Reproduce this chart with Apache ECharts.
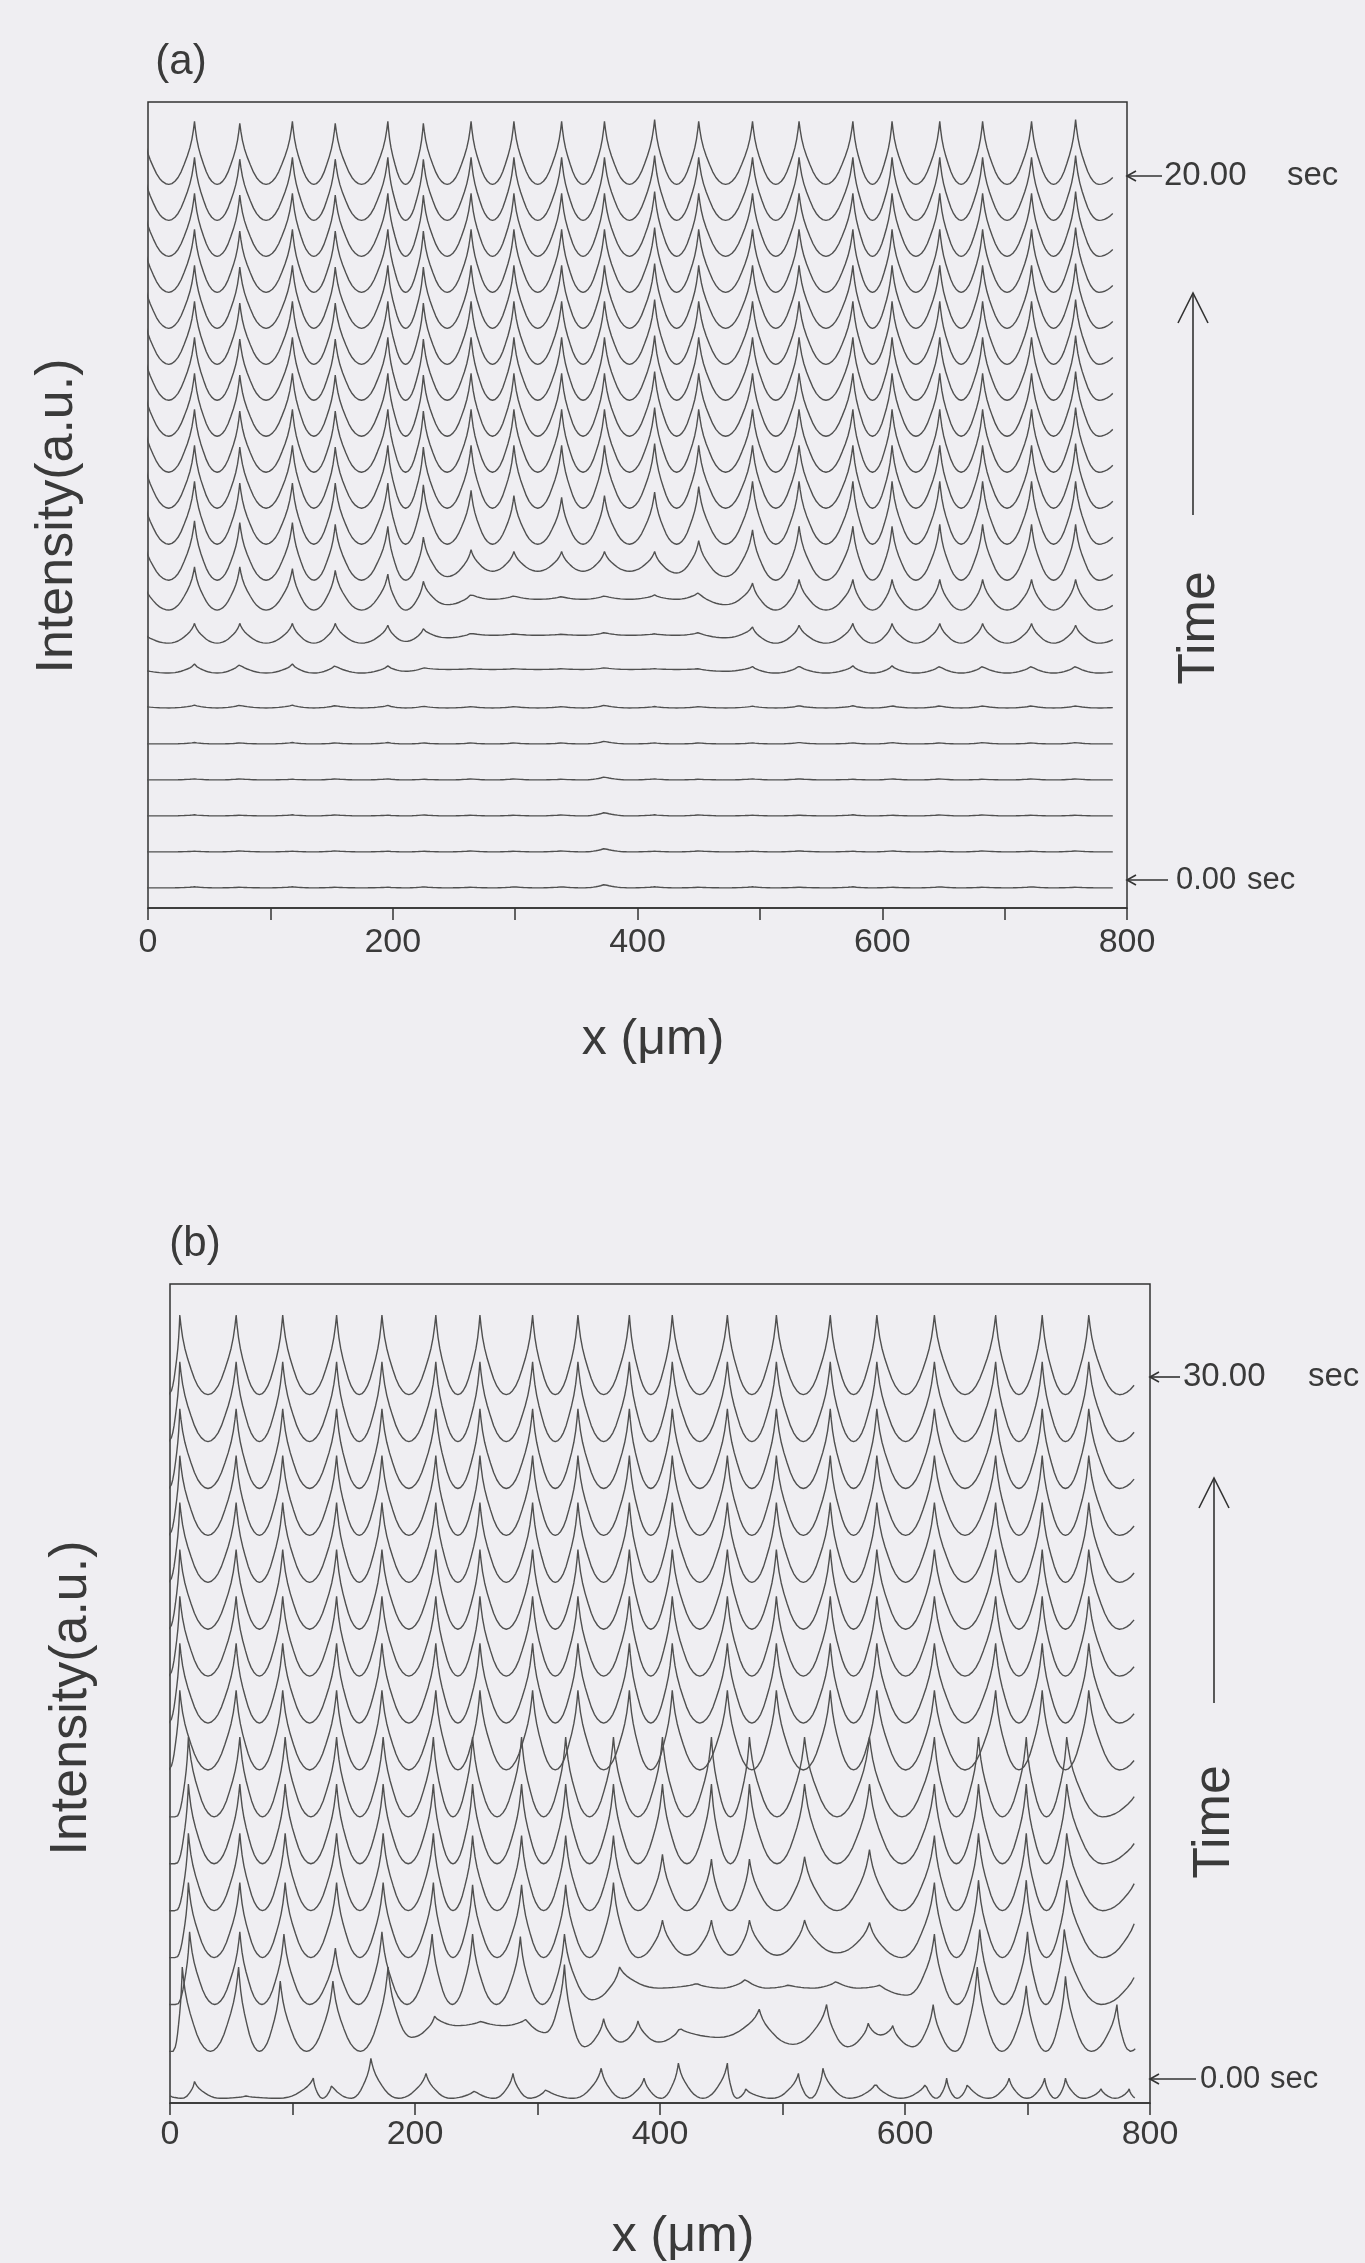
<!DOCTYPE html>
<html lang="en">
<head>
    <meta charset="UTF-8">
    <title>Intensity profiles vs time</title>
    <script src="https://cdn.jsdelivr.net/npm/echarts@6.0.0/dist/echarts.min.js"></script>
    <style>
        body { margin: 0; background-color: #efeef2; }
        #chart { width: 1365px; height: 2263px; }
    </style>
</head>
<body>
    <div id="chart"></div>
    <script>
        // ---------- panel (a): 0 .. 20 sec, one trace per second ----------
        // peak positions in um (first / last sit just outside the trace ends)
        var A_PEAK_X = [-4, 38, 75, 118, 153, 196, 225, 264, 299, 338, 373, 414, 450, 494, 532, 576, 608, 647, 682, 722, 758, 796];
        // valley level of each trace (trace spacing = 1), t = 0 .. 20
        var A_BASE = [0.56, 1.56, 2.56, 3.56, 4.56, 5.56, 6.53, 7.36, 8.28, 9.11, 10.11, 11.11, 12.11, 13.11, 14.11, 15.11, 16.11, 17.11, 18.11, 19.11, 20.11];
        var A_FULL = [1.5, 1.75, 1.7, 1.75, 1.7, 1.75, 1.7, 1.75, 1.75, 1.75, 1.75, 1.8, 1.75, 1.75, 1.75, 1.75, 1.75, 1.75, 1.75, 1.75, 1.8, 0.6];
        // peak heights above the valley level, one row per trace
        var A_PEAKS = [
            [0, 0.03, 0.02, 0.03, 0.02, 0.02, 0.03, 0.02, 0.03, 0.03, 0.1, 0.03, 0.02, 0.03, 0.02, 0.03, 0.02, 0.03, 0.02, 0.03, 0.02, 0],
            [0, 0.02, 0.03, 0.02, 0.03, 0.02, 0.02, 0.03, 0.02, 0.03, 0.1, 0.02, 0.03, 0.02, 0.03, 0.02, 0.03, 0.02, 0.03, 0.02, 0.03, 0],
            [0, 0.03, 0.02, 0.03, 0.03, 0.02, 0.03, 0.02, 0.02, 0.03, 0.1, 0.03, 0.03, 0.02, 0.02, 0.03, 0.02, 0.03, 0.03, 0.02, 0.02, 0],
            [0, 0.03, 0.03, 0.02, 0.03, 0.03, 0.02, 0.03, 0.03, 0.02, 0.09, 0.03, 0.02, 0.03, 0.03, 0.02, 0.03, 0.03, 0.02, 0.03, 0.03, 0],
            [0, 0.04, 0.03, 0.04, 0.03, 0.04, 0.03, 0.03, 0.03, 0.03, 0.08, 0.03, 0.03, 0.03, 0.04, 0.03, 0.04, 0.03, 0.04, 0.03, 0.04, 0],
            [0.05, 0.08, 0.08, 0.08, 0.07, 0.07, 0.05, 0.04, 0.04, 0.04, 0.08, 0.04, 0.04, 0.05, 0.06, 0.06, 0.06, 0.06, 0.06, 0.06, 0.06, 0.03],
            [0.1, 0.25, 0.25, 0.25, 0.22, 0.2, 0.15, 0.12, 0.12, 0.12, 0.15, 0.12, 0.12, 0.18, 0.2, 0.2, 0.2, 0.2, 0.2, 0.2, 0.2, 0.1],
            [0.3, 0.55, 0.55, 0.55, 0.55, 0.5, 0.4, 0.28, 0.26, 0.25, 0.3, 0.26, 0.3, 0.45, 0.5, 0.55, 0.55, 0.55, 0.55, 0.55, 0.5, 0.3],
            [0.8, 1.2, 1.2, 1.15, 1.1, 1.0, 0.8, 0.45, 0.4, 0.38, 0.4, 0.42, 0.5, 0.75, 0.85, 0.85, 0.85, 0.85, 0.85, 0.85, 0.85, 0.4],
            [1.2, 1.65, 1.6, 1.6, 1.55, 1.5, 1.2, 0.85, 0.8, 0.8, 0.8, 0.8, 1.1, 1.4, 1.5, 1.5, 1.5, 1.55, 1.55, 1.55, 1.55, 0.5],
            [1.4, 1.75, 1.7, 1.7, 1.7, 1.7, 1.65, 1.5, 1.35, 1.3, 1.35, 1.45, 1.6, 1.75, 1.75, 1.75, 1.75, 1.75, 1.75, 1.75, 1.75, 0.6],
            A_FULL, A_FULL, A_FULL, A_FULL, A_FULL, A_FULL, A_FULL, A_FULL, A_FULL, A_FULL
        ];
        // raised floor between peaks where the pattern has not formed yet
        var A_VALLEYS = [
            null, null, null, null, null, null,
            [0, 0, 0, 0, 0, 0.05, 0.1, 0.1, 0.1, 0.1, 0.1, 0.1, 0.05, 0, 0, 0, 0, 0, 0, 0, 0],
            [0, 0, 0, 0, 0, 0.05, 0.15, 0.22, 0.22, 0.22, 0.22, 0.22, 0.15, 0, 0, 0, 0, 0, 0, 0, 0],
            [0, 0, 0, 0, 0, 0, 0.15, 0.3, 0.3, 0.3, 0.3, 0.3, 0.15, 0, 0, 0, 0, 0, 0, 0, 0],
            [0, 0, 0, 0, 0, 0, 0.1, 0.25, 0.25, 0.25, 0.25, 0.2, 0.1, 0, 0, 0, 0, 0, 0, 0, 0]
        ];

        // ---------- panel (b): 0 .. 30 sec, one trace every 2 sec ----------
        var B_X_TOP = [-10, 8, 54, 92, 136, 173, 217, 253, 296, 333, 375, 410, 455, 495, 539, 577, 624, 674, 712, 750, 800];
        var B_X_LOW = [-5, 15, 57, 94, 136, 174, 215, 247, 287, 323, 362, 402, 442, 473, 518, 571, 624, 660, 699, 732, 790];
        var B_R2_X = [-5, 16, 57, 93, 135, 173, 214, 247, 286, 322, 367, 430, 470, 505, 544, 580, 624, 661, 700, 730, 790];
        var B_R1_X = [-5, 10, 56, 90, 133, 178, 216, 254, 291, 322, 354, 382, 416, 481, 536, 570, 590, 623, 659, 699, 731, 773, 795];
        var B_R0_X = [0, 20, 62, 117, 132, 164, 209, 249, 280, 307, 352, 387, 415, 455, 470, 513, 533, 576, 617, 634, 651, 685, 714, 731, 760, 783, 795];

        var B_BASE = [0.1, 1.1, 2.1, 3.1, 4.1, 5.1, 6.1, 7.1, 8.1, 9.1, 10.1, 11.1, 12.1, 13.1, 14.1, 15.1];
        var B_FULL = [0, 1.7, 1.7, 1.7, 1.7, 1.7, 1.7, 1.7, 1.7, 1.7, 1.7, 1.7, 1.7, 1.7, 1.7, 1.7, 1.7, 1.7, 1.7, 1.7, 1.0];
        var B_FULL_LOW = [0, 1.7, 1.7, 1.7, 1.7, 1.7, 1.7, 1.7, 1.7, 1.7, 1.7, 1.7, 1.7, 1.7, 1.7, 1.7, 1.7, 1.7, 1.7, 1.7, 0.6];
        var B_R4 = [0, 1.65, 1.65, 1.65, 1.65, 1.65, 1.65, 1.6, 1.6, 1.6, 1.6, 1.2, 1.1, 1.1, 1.15, 1.3, 1.6, 1.65, 1.65, 1.65, 0.8];
        var B_R3 = [0, 1.6, 1.6, 1.6, 1.6, 1.6, 1.6, 1.55, 1.55, 1.55, 1.6, 0.8, 0.8, 0.8, 0.8, 0.75, 1.6, 1.65, 1.65, 1.65, 1.0];
        var B_R2 = [0, 1.55, 1.55, 1.5, 1.2, 1.55, 1.5, 1.5, 1.45, 1.5, 0.8, 0.45, 0.55, 0.42, 0.5, 0.42, 1.5, 1.6, 1.55, 1.6, 0.8];
        var B_R1 = [0, 1.8, 1.8, 1.5, 1.5, 1.8, 0.75, 0.65, 0.7, 1.85, 0.7, 0.65, 0.5, 0.9, 1.0, 0.6, 0.55, 1.0, 1.8, 1.4, 1.6, 1.0, 0.5];
        var B_R0 = [0.05, 0.36, 0.05, 0.43, 0.3, 0.85, 0.53, 0.17, 0.53, 0.2, 0.64, 0.43, 0.75, 0.75, 0.2, 0.53, 0.64, 0.32, 0.32, 0.43, 0.32, 0.43, 0.43, 0.43, 0.2, 0.2, 0.25];
        var B_R3_VALLEY = [0, 0, 0, 0, 0, 0, 0, 0, 0, 0, 0, 0.05, 0.05, 0.05, 0.1, 0, 0, 0, 0, 0];
        var B_R2_VALLEY = [0, 0, 0, 0, 0, 0, 0, 0, 0, 0.1, 0.35, 0.35, 0.35, 0.35, 0.35, 0.2, 0, 0, 0, 0];
        var B_R1_VALLEY = [0, 0, 0, 0, 0, 0.3, 0.55, 0.55, 0.4, 0.1, 0.2, 0.2, 0.3, 0.15, 0.1, 0.35, 0.1, 0, 0, 0, 0, 0];

        var B_ROWS_X = [B_R0_X, B_R1_X, B_R2_X, B_X_LOW, B_X_LOW, B_X_LOW, B_X_LOW,
            B_X_TOP, B_X_TOP, B_X_TOP, B_X_TOP, B_X_TOP, B_X_TOP, B_X_TOP, B_X_TOP, B_X_TOP];
        var B_PEAKS = [B_R0, B_R1, B_R2, B_R3, B_R4, B_FULL_LOW, B_FULL_LOW,
            B_FULL, B_FULL, B_FULL, B_FULL, B_FULL, B_FULL, B_FULL, B_FULL, B_FULL];
        var B_VALLEYS = [null, B_R1_VALLEY, B_R2_VALLEY, B_R3_VALLEY];

        // flank of one peak: fraction of the way to the
        // valley -> fraction of the peak height left (sharp tip, round U valley)
        var SHAPE_S = [0, 0.04, 0.1, 0.18, 0.28, 0.4, 0.52, 0.64, 0.76, 0.88, 1];
        var SHAPE_G = [1, 0.87, 0.72, 0.58, 0.45, 0.32, 0.2, 0.11, 0.05, 0.013, 0];

        var X_TICKS = [0, 200, 400, 600, 800];

        var FONT = '"Liberation Sans", Arial, Helvetica, sans-serif';
        var INK = '#3a3a3a';
        var TRACE = '#505050';

        // turn peak list of one trace into [x, y] points
        function traceData(xs, peaks, valleys, base, xEnd) {
            var pts = [[xs[0], base + peaks[0]]];
            for (var i = 0; i < xs.length - 1; i++) {
                var x0 = xs[i], x1 = xs[i + 1], xm = (x0 + x1) / 2;
                var v = valleys ? valleys[i] : 0;
                var k;
                for (k = 1; k < SHAPE_S.length; k++) {
                    pts.push([x0 + SHAPE_S[k] * (xm - x0), base + v + (peaks[i] - v) * SHAPE_G[k]]);
                }
                for (k = SHAPE_S.length - 2; k >= 0; k--) {
                    pts.push([x1 - SHAPE_S[k] * (x1 - xm), base + v + (peaks[i + 1] - v) * SHAPE_G[k]]);
                }
            }
            return pts.filter(function (p) { return p[0] <= xEnd; });
        }

        var series = [];
        A_BASE.forEach(function (base, t) {
            series.push({
                type: 'line', xAxisIndex: 0, yAxisIndex: 0,
                data: traceData(A_PEAK_X, A_PEAKS[t], A_VALLEYS[t], base, 790),
                symbol: 'none', silent: true, animation: false,
                lineStyle: { color: TRACE, width: 1.4 }
            });
        });
        B_BASE.forEach(function (base, r) {
            series.push({
                type: 'line', xAxisIndex: 1, yAxisIndex: 1,
                data: traceData(B_ROWS_X[r], B_PEAKS[r], B_VALLEYS[r] || null, base, 788),
                symbol: 'none', silent: true, animation: false,
                lineStyle: { color: TRACE, width: 1.4 }
            });
        });

        function xAxisFor(grid, margin) {
            return {
                gridIndex: grid, type: 'value', min: 0, max: 800, interval: 100,
                axisLine: { lineStyle: { color: '#333', width: 1.5 } },
                axisTick: { length: 12, lineStyle: { color: '#333', width: 1.5 } },
                axisLabel: {
                    margin: margin, fontSize: 34, color: INK, fontFamily: FONT,
                    formatter: function (v) { return X_TICKS.indexOf(v) >= 0 ? String(v) : ''; }
                },
                splitLine: { show: false }
            };
        }

        function label(text, x, y, size, rot, align) {
            return {
                type: 'text', x: x, y: y, rotation: rot || 0, silent: true, z: 10,
                style: {
                    text: text, fill: INK, fontSize: size, fontFamily: FONT,
                    textAlign: align || 'center', textVerticalAlign: 'middle',
                    align: align || 'center', verticalAlign: 'middle'
                }
            };
        }
        function stroke(points) {
            return {
                type: 'polyline', silent: true, z: 10,
                shape: { points: points },
                style: { stroke: '#333', lineWidth: 1.6, fill: null }
            };
        }
        // small "<--" pointer from the frame to a time label
        function pointer(x0, x1, y) {
            return [stroke([[x0, y], [x1, y]]), stroke([[x0 + 9, y - 5], [x0, y], [x0 + 9, y + 5]])];
        }
        // long up arrow next to "Time"
        function upArrow(x, yTop, yBottom) {
            return [stroke([[x, yBottom], [x, yTop]]), stroke([[x - 15, yTop + 30], [x, yTop], [x + 15, yTop + 30]])];
        }

        var graphics = [].concat(
            [label('(a)', 181, 62, 42), label('(b)', 195, 1244, 42)],
            [label('Intensity(a.u.)', 58, 516, 52, Math.PI / 2), label('Intensity(a.u.)', 72, 1698, 52, Math.PI / 2)],
            [label('Time', 1200, 628, 52, Math.PI / 2), label('Time', 1215, 1822, 52, Math.PI / 2)],
            upArrow(1193, 293, 515), upArrow(1214, 1478, 1703),
            [label('x (\u03bcm)', 653, 1040, 50), label('x (\u03bcm)', 683, 2237, 50)],
            pointer(1127, 1162, 176), [label('20.00', 1164, 176, 33, 0, 'left'), label('sec', 1287, 176, 33, 0, 'left')],
            pointer(1127, 1168, 880), [label('0.00', 1176, 880, 31, 0, 'left'), label('sec', 1247, 880, 31, 0, 'left')],
            pointer(1150, 1180, 1377), [label('30.00', 1183, 1377, 33, 0, 'left'), label('sec', 1308, 1377, 33, 0, 'left')],
            pointer(1150, 1196, 2079), [label('0.00', 1200, 2079, 31, 0, 'left'), label('sec', 1270, 2079, 31, 0, 'left')]
        );

        var chart = echarts.init(document.getElementById('chart'), null, { renderer: 'canvas' });
        chart.setOption({
            backgroundColor: '#efeef2',
            animation: false,
            textStyle: { fontFamily: FONT },
            grid: [
                { left: 148, top: 102, width: 979, height: 806, show: true, borderColor: '#333', borderWidth: 1.5 },
                { left: 170, top: 1284, width: 980, height: 819, show: true, borderColor: '#333', borderWidth: 1.5 }
            ],
            xAxis: [xAxisFor(0, 18), xAxisFor(1, 15)],
            yAxis: [
                { gridIndex: 0, type: 'value', min: 0, max: 22.4, show: false },
                { gridIndex: 1, type: 'value', min: 0, max: 17.46, show: false }
            ],
            series: series,
            graphic: graphics
        });
    </script>
</body>
</html>
